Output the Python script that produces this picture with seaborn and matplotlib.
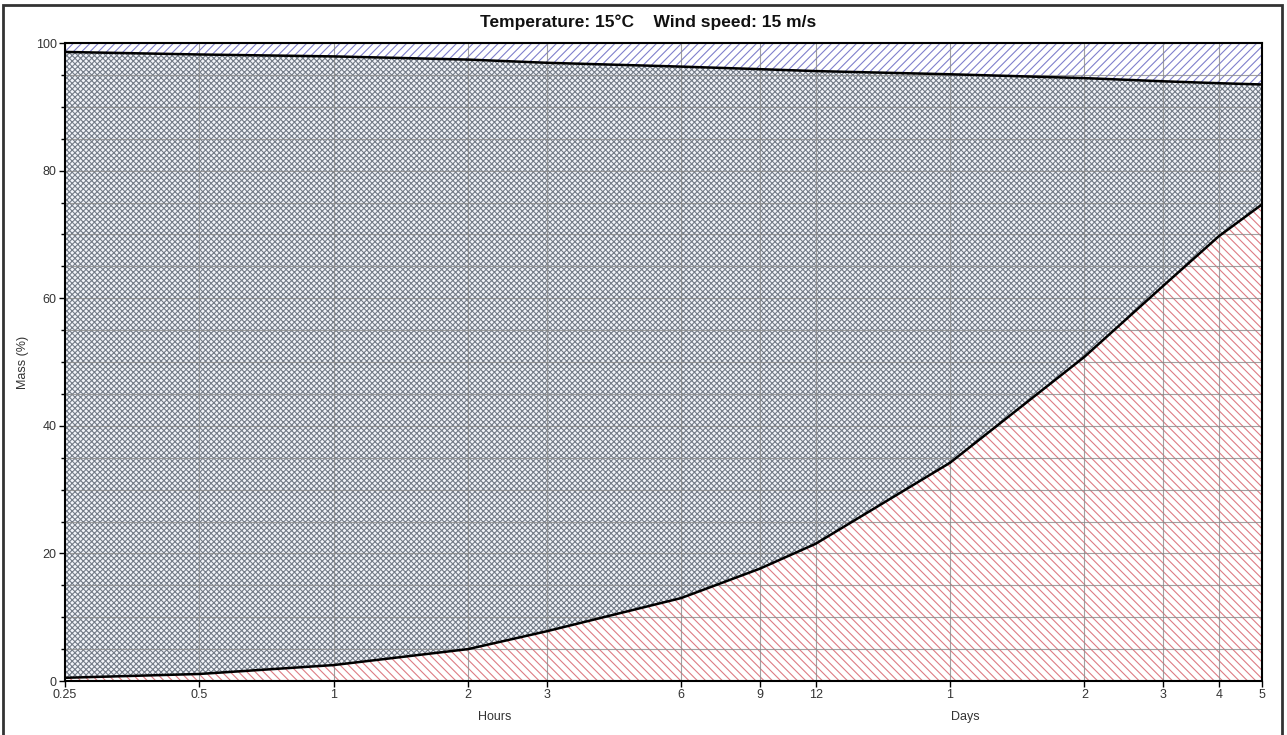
import matplotlib
matplotlib.use("Agg")
import matplotlib.pyplot as plt
import numpy as np
import pandas as pd
import seaborn as sns

# time in hours, read at each tick
hours = [0.25, 0.5, 1, 2, 3, 6, 9, 12, 24, 48, 72, 96, 120]
tick_labels = ['0.25', '0.5', '1', '2', '3', '6', '9', '12', '1', '2', '3', '4', '5']
evaporated = [0.5, 1.1, 2.5, 5.0, 7.8, 13.0, 17.6, 21.5, 34.2, 50.8, 61.9, 69.7, 74.7]
upper = [98.6, 98.2, 97.9, 97.4, 96.9, 96.3, 95.9, 95.6, 95.1, 94.5, 94.0, 93.7, 93.5]

df = pd.DataFrame({'hours': hours, 'evaporated': evaporated, 'upper': upper})

sns.set_theme(style='white')
plt.rcParams['font.family'] = ['Liberation Sans', 'DejaVu Sans']
plt.rcParams['hatch.linewidth'] = 0.8

fig = plt.figure(figsize=(12.87, 7.35), dpi=100)
ax = fig.add_axes([65 / 1287, 54 / 735, 1197 / 1287, 638 / 735])

# filled regions with hatches
ax.fill_between(df['hours'], 0, df['evaporated'], facecolor='white', edgecolor='#dd7c84',
                hatch='\\\\\\\\', linewidth=0, zorder=1)
ax.fill_between(df['hours'], df['evaporated'], df['upper'], facecolor='#f2f4f9', edgecolor='#747c88',
                hatch='xxxxxx', linewidth=0, zorder=1)
ax.fill_between(df['hours'], df['upper'], 100, facecolor='white', edgecolor='#8080cc',
                hatch='////', linewidth=0, zorder=1)

sns.lineplot(data=df, x='hours', y='evaporated', color='black', linewidth=1.8, ax=ax, zorder=4)
sns.lineplot(data=df, x='hours', y='upper', color='black', linewidth=1.8, ax=ax, zorder=4)

ax.set_xscale('log')
ax.set_xlim(0.25, 120)
ax.set_ylim(0, 100)
ax.set_xticks(hours)
ax.set_xticklabels(tick_labels)
ax.minorticks_off()
ax.set_yticks([0, 20, 40, 60, 80, 100])
ax.set_yticks([v for v in range(5, 100, 5) if v % 20 != 0], minor=True)

ax.grid(True, which='both', color='#8a8a8a', linewidth=0.8, alpha=0.8, zorder=3)
ax.set_axisbelow(False)

ax.tick_params(axis='both', which='both', direction='out', length=4, width=1, color='black',
               labelsize=9, labelcolor='#333333', pad=2, bottom=True, left=True)
ax.tick_params(axis='y', which='minor', length=3)

for sp in ax.spines.values():
    sp.set_color('black')
    sp.set_linewidth(1.5)
    sp.set_zorder(5)

ax.set_xlabel('')
ax.set_ylabel('Mass (%)', fontsize=9, color='#333333')
ax.yaxis.set_label_coords(-36 / 1197, 0.5)

fig.text(495 / 1287, 1 - 717 / 735, 'Hours', fontsize=9, color='#333333', ha='center', va='center')
fig.text(965 / 1287, 1 - 717 / 735, 'Days', fontsize=9, color='#333333', ha='center', va='center')
fig.text(648 / 1287, 1 - 22 / 735, 'Temperature: 15°C    Wind speed: 15 m/s', fontsize=12.5,
         fontweight='bold', color='#111111', ha='center', va='center')

# outer frame of the figure
frame = plt.Rectangle((3 / 1287, -0.02), 1279 / 1287, 1 - 5 / 735 + 0.02, transform=fig.transFigure,
                      fill=False, edgecolor='#333333', linewidth=2)
fig.patches.append(frame)

fig.savefig('out.png', dpi=100)
